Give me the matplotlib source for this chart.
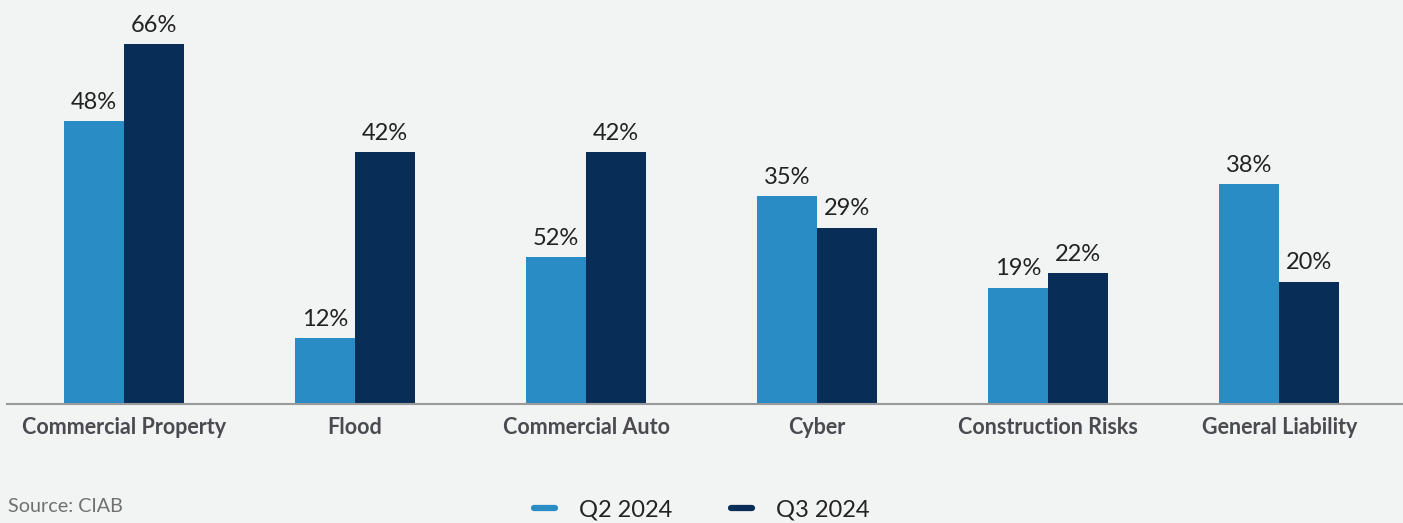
import matplotlib.pyplot as plt
from matplotlib.lines import Line2D
import numpy as np

categories = ["Commercial Property", "Flood", "Commercial Auto", "Cyber",
              "Construction Risks", "General Liability"]
# bar heights as drawn in the source graphic
q2_heights = [51.9, 12.1, 26.9, 38.1, 21.3, 40.3]
q3_heights = [66.0, 46.2, 46.2, 32.3, 24.0, 22.4]
# labels printed above the bars
q2_labels = ["48%", "12%", "52%", "35%", "19%", "38%"]
q3_labels = ["66%", "42%", "42%", "29%", "22%", "20%"]
series_names = ["Q2 2024", "Q3 2024"]

BG = "#f2f3f3"
C_Q2 = "#2a8cc4"
C_Q3 = "#082e57"

plt.rcParams["font.family"] = ["Lato", "DejaVu Sans"]

fig = plt.figure(figsize=(14.03, 5.23), dpi=100, facecolor=BG)
ax = fig.add_axes([7 / 1403, 119 / 523, 1396 / 1403, 404 / 523])
ax.set_facecolor(BG)

x = np.arange(len(categories))
w = 0.26
b1 = ax.bar(x - w / 2, q2_heights, w, color=C_Q2)
b2 = ax.bar(x + w / 2, q3_heights, w, color=C_Q3)

for bars, labels in ((b1, q2_labels), (b2, q3_labels)):
    for rect, lab in zip(bars, labels):
        ax.annotate(lab, (rect.get_x() + rect.get_width() / 2, rect.get_height()),
                    xytext=(0, 6), textcoords="offset points",
                    ha="center", va="bottom", fontsize=17, color="#222222")

ax.set_xlim(-0.506, 5.535)
ax.set_ylim(0, 404 / 5.455)
ax.set_xticks(x)
ax.set_xticklabels(categories, fontsize=15.5, fontweight="bold", color="#4a4a50")
ax.tick_params(axis="x", length=0, pad=9)
ax.set_yticks([])
for s in ["top", "right", "left"]:
    ax.spines[s].set_visible(False)
ax.spines["bottom"].set_color("#9a9a9a")
ax.spines["bottom"].set_linewidth(1.5)

fig.text(8 / 1403, 1 - 507 / 523, "Source: CIAB", fontsize=14.2, color="#707070",
         ha="left", va="center")

handles = [Line2D([], [], color=C_Q2, lw=4.5, solid_capstyle="round"),
           Line2D([], [], color=C_Q3, lw=4.5, solid_capstyle="round")]
leg = fig.legend(handles, series_names, loc="center", bbox_to_anchor=(0.5, 1 - 510 / 523),
                 ncol=2, frameon=False, fontsize=17, handlelength=0.9,
                 handletextpad=1.0, columnspacing=2.5)
for t in leg.get_texts():
    t.set_color("#222222")

fig.savefig("out.png", dpi=100, facecolor=BG)
